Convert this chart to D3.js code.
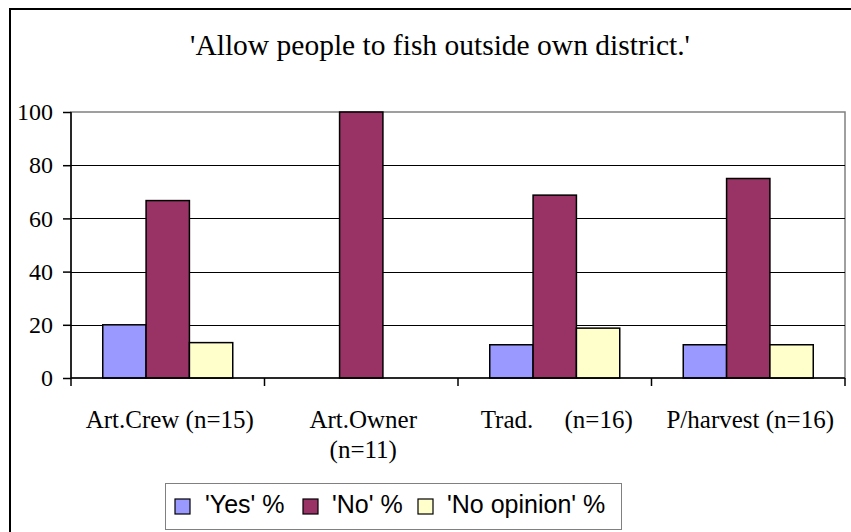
<!DOCTYPE html>
<html><head><meta charset="utf-8">
<script src="https://cdn.jsdelivr.net/npm/d3@7"></script>
<style>body{margin:0;background:#fff}svg{display:block}</style>
</head><body>
<svg id="c" width="851" height="532"></svg>
<script>
const title = "'Allow people to fish outside own district.'";
const categories = [["Art.Crew (n=15)"], ["Art.Owner", "(n=11)"], ["Trad.     (n=16)"], ["P/harvest (n=16)"]];
const seriesNames = ["'Yes' %", "'No' %", "'No opinion' %"];
const seriesColors = ["#9999ff", "#993366", "#ffffcc"];
const yesValues = [20, 0, 12.5, 12.5];
const noValues = [66.7, 100, 68.75, 75];
const noOpinionValues = [13.3, 0, 18.75, 12.5];
const yTicks = [0, 20, 40, 60, 80, 100];

const series = [yesValues, noValues, noOpinionValues];
const svg = d3.select("#c");
const L = 71, R = 845, T = 112, B = 378;
const serif = "'Liberation Serif','Times New Roman',serif";
const sans = "'Liberation Sans',Arial,sans-serif";

// outer border
svg.append("rect").attr("x", 10).attr("y", 9).attr("width", 860).attr("height", 560)
  .attr("fill", "#fff").attr("stroke", "#000").attr("stroke-width", 2);

svg.append("text").attr("x", 440).attr("y", 55).attr("text-anchor", "middle")
  .attr("font-family", serif).attr("font-size", 29.5).text(title);

const x = d3.scaleBand().domain(d3.range(categories.length)).range([L, R]).paddingInner(0).paddingOuter(0);
const y = d3.scaleLinear().domain([0, 100]).range([B, T]);
const bw = x.bandwidth() * 130 / 193.5;
const xs = d3.scaleBand().domain(d3.range(series.length)).range([0, bw]);

// plot border
svg.append("rect").attr("x", L).attr("y", T).attr("width", R - L).attr("height", B - T)
  .attr("fill", "none").attr("stroke", "#808080").attr("stroke-width", 1.5);

// gridlines
svg.append("g").selectAll("line").data(yTicks.filter(d => d > 0 && d < 100)).join("line")
  .attr("x1", L).attr("x2", R).attr("y1", d => Math.round(y(d)) + 0.5).attr("y2", d => Math.round(y(d)) + 0.5)
  .attr("stroke", "#000").attr("stroke-width", 1);

// bars
const g = svg.append("g");
series.forEach((vals, si) => {
  g.selectAll(null).data(vals).join("rect")
    .attr("x", (d, i) => x(i) + (x.bandwidth() - bw) / 2 + xs(si))
    .attr("y", d => y(d))
    .attr("width", xs.bandwidth())
    .attr("height", d => B - y(d))
    .attr("fill", seriesColors[si])
    .attr("stroke", d => d > 0 ? "#000" : "none").attr("stroke-width", 1.5);
});

// y axis
const ya = svg.append("g").attr("transform", `translate(${L},0)`)
  .call(d3.axisLeft(y).tickValues(yTicks).tickSize(8).tickPadding(10));
ya.attr("font-family", serif).attr("font-size", 24);
ya.select(".domain").attr("stroke", "#000").attr("stroke-width", 1.5).attr("d", `M0,${T}V${B}`);
ya.selectAll(".tick line").attr("stroke", "#000").attr("stroke-width", 1.5);
ya.selectAll("text").attr("font-family", serif).attr("font-size", 24).attr("fill", "#000");

// x axis
const xa = svg.append("g").attr("transform", `translate(0,${B})`);
xa.append("line").attr("x1", L).attr("x2", R).attr("y1", 0).attr("y2", 0).attr("stroke", "#000").attr("stroke-width", 1.5);
xa.selectAll(".tk").data(d3.range(categories.length + 1)).join("line")
  .attr("x1", i => L + i * x.bandwidth()).attr("x2", i => L + i * x.bandwidth())
  .attr("y1", 0).attr("y2", 8).attr("stroke", "#000").attr("stroke-width", 1.5);
categories.forEach((lines, i) => {
  const t = xa.append("text").attr("text-anchor", "middle").attr("font-family", serif)
    .attr("font-size", 25).attr("xml:space", "preserve").style("white-space", "pre");
  lines.forEach((ln, j) => {
    t.append("tspan").attr("x", x(i) + x.bandwidth() / 2 + 2).attr("y", 50 + j * 30).text(ln);
  });
});

// legend
const lg = svg.append("g");
lg.append("rect").attr("x", 165.5).attr("y", 483.5).attr("width", 456).attr("height", 46)
  .attr("fill", "#fff").attr("stroke", "#808080").attr("stroke-width", 1);
const legX = [175, 303, 418];
const legTX = [205, 332, 447];
seriesNames.forEach((n, i) => {
  lg.append("rect").attr("x", legX[i]).attr("y", 499).attr("width", 15).attr("height", 15)
    .attr("fill", seriesColors[i]).attr("stroke", "#000").attr("stroke-width", 1.2);
  lg.append("text").attr("x", legTX[i]).attr("y", 513).attr("font-family", sans)
    .attr("font-size", 25).text(n);
});
</script>
</body></html>
